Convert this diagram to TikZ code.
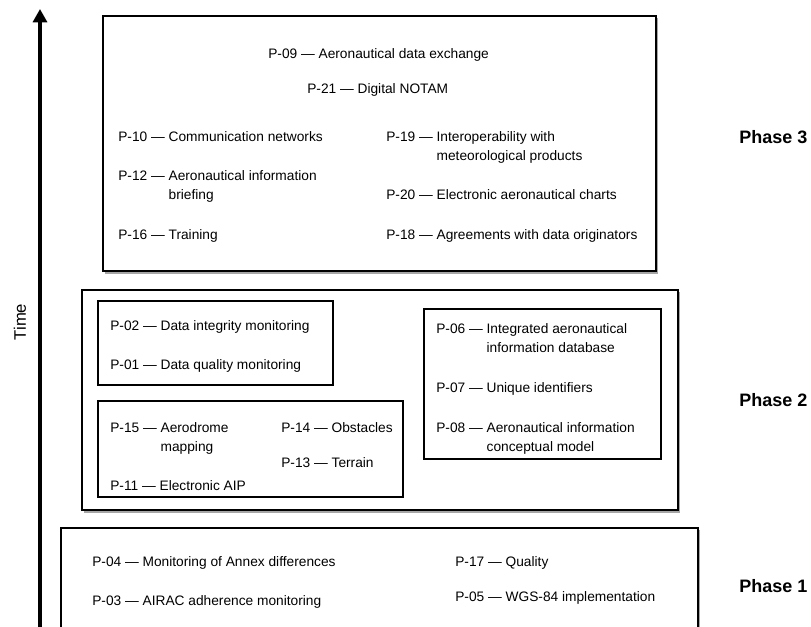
\documentclass[tikz,border=0pt]{standalone}
\usepackage{fontspec}
\setmainfont{Liberation Sans}
\usetikzlibrary{arrows.meta}
\newcommand{\itemfont}{\fontsize{10.3}{14.6}\selectfont}
\tikzset{
  item/.style={anchor=base west, inner sep=0pt, font=\itemfont},
  phaselbl/.style={anchor=base west, inner sep=0pt, font=\fontsize{13.5}{16}\selectfont\bfseries},
  outerbox/.style={draw=black, line width=1.3pt},
  innerbox/.style={draw=black, line width=0.9pt},
  shadowline/.style={draw=black!35, line width=0.8pt},
}
\newcommand{\two}[3]{\begin{tabular}[t]{@{}l@{\ }l@{}}#1\ --- & #2\\ & #3\end{tabular}}
\begin{document}
\begin{tikzpicture}[x=0.75pt,y=-0.75pt]
\useasboundingbox (0,0) rectangle (811,626);
% time axis
\coordinate (axbot) at (40,640);
\coordinate (axtop) at (40,9);
\draw[line width=2.4pt, -{Triangle[length=10pt,width=10.5pt]}] (axbot) -- (axtop);
\node[rotate=90, font=\fontsize{12.5}{14}\selectfont, inner sep=0pt] (time) at (20,322) {Time};

% Phase 3
\draw[shadowline] (105,273) -- (657.5,273) -- (657.5,18);
\draw[outerbox] (103,16) rectangle (656,271);
\node[item] (p09) at (268,58.5) {P-09 --- Aeronautical data exchange};
\node[item] (p21) at (307,93.5) {P-21 --- Digital NOTAM};
\node[item] (p10) at (118,141) {P-10 --- Communication networks};
\node[item] (p12) at (118,180.5) {\two{P-12}{Aeronautical information}{briefing}};
\node[item] (p16) at (118,239.5) {P-16 --- Training};
\node[item] (p19) at (386,141) {\two{P-19}{Interoperability with}{meteorological products}};
\node[item] (p20) at (386,199.5) {P-20 --- Electronic aeronautical charts};
\node[item] (p18) at (386,239.5) {P-18 --- Agreements with data originators};
\node[phaselbl] (ph3) at (739,143.5) {Phase 3};

% Phase 2
\draw[shadowline] (84,512) -- (679.5,512) -- (679.5,292);
\draw[outerbox] (82,290) rectangle (678,510);
\draw[innerbox] (98,301) rectangle (333,385);
\draw[innerbox] (98,401) rectangle (403,497);
\draw[innerbox] (424,309) rectangle (661,459);
\node[item] (p02) at (110,330.5) {P-02 --- Data integrity monitoring};
\node[item] (p01) at (110,369.5) {P-01 --- Data quality monitoring};
\node[item] (p15) at (110,432.5) {\two{P-15}{Aerodrome}{mapping}};
\node[item] (p14) at (281,432.5) {P-14 --- Obstacles};
\node[item] (p13) at (281,467.5) {P-13 --- Terrain};
\node[item] (p11) at (110,490.5) {P-11 --- Electronic AIP};
\node[item] (p06) at (436,333.5) {\two{P-06}{Integrated aeronautical}{information database}};
\node[item] (p07) at (436,392.5) {P-07 --- Unique identifiers};
\node[item] (p08) at (436,432.5) {\two{P-08}{Aeronautical information}{conceptual model}};
\node[phaselbl] (ph2) at (739,406.5) {Phase 2};

% Phase 1
\draw[shadowline] (699.5,529.5) -- (699.5,640);
\draw[outerbox] (61,640) -- (61,528) -- (698,528) -- (698,640);
\node[item] (p04) at (92,566.5) {P-04 --- Monitoring of Annex differences};
\node[item] (p03) at (92,605) {P-03 --- AIRAC adherence monitoring};
\node[item] (p17) at (455,566) {P-17 --- Quality};
\node[item] (p05) at (455,601) {P-05 --- WGS-84 implementation};
\node[phaselbl] (ph1) at (739,592.5) {Phase 1};
\end{tikzpicture}
\end{document}
